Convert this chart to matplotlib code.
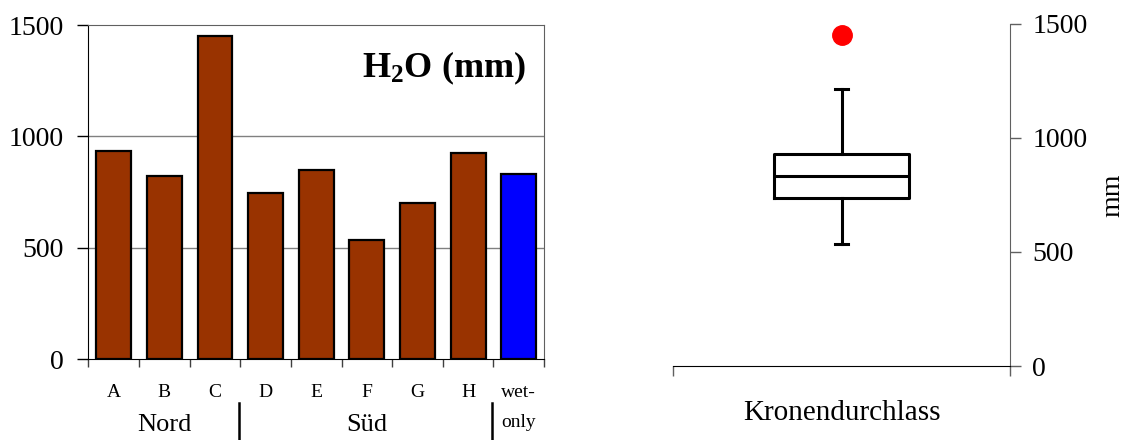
import numpy as np
import matplotlib
matplotlib.use("Agg")
import matplotlib.pyplot as plt
import matplotlib.transforms as mtransforms

plt.rcParams['font.family'] = ['Liberation Serif', 'DejaVu Serif']
plt.rcParams['mathtext.fontset'] = 'custom'
plt.rcParams['mathtext.rm'] = 'Liberation Serif'
plt.rcParams['mathtext.bf'] = 'Liberation Serif:bold'

# Throughfall per site (mm) and the wet-only reference collector
sites = ["A", "B", "C", "D", "E", "F", "G", "H"]
site_values = [934, 820, 1450, 748, 849, 534, 703, 925]
wet_only_value = 832
groups = ["Nord", "Süd"]
yticks = [0, 500, 1000, 1500]

BROWN = "#993300"
BLUE = "#0000FF"

fig = plt.figure(figsize=(11.33, 4.4), dpi=100)

# ---- bar chart ----
ax = fig.add_axes([0.0781, 0.184, 0.402, 0.759])
x = np.arange(len(sites) + 1)
values = site_values + [wet_only_value]
colors = [BROWN] * len(sites) + [BLUE]
ax.bar(x, values, width=0.69, color=colors, edgecolor="black", linewidth=1.6, zorder=3)
ax.set_xlim(-0.5, len(x) - 0.5)
ax.set_ylim(0, 1500)
ax.set_yticks(yticks)
ax.set_yticklabels([str(v) for v in yticks], fontsize=20)
ax.tick_params(axis="y", length=8, width=1, direction="out", pad=10)
for v in yticks[1:-1]:
    ax.axhline(v, color="#808080", linewidth=1, zorder=1)
ax.set_xticks(np.arange(-0.5, len(x), 1.0))
ax.set_xticklabels([])
ax.tick_params(axis="x", length=6, width=1, direction="out", color="#404040")
for side in ["top", "right"]:
    ax.spines[side].set_color("#606060")
for side in ["left", "bottom"]:
    ax.spines[side].set_color("black")

trans = mtransforms.blended_transform_factory(ax.transData, ax.transAxes)
for i, s in enumerate(sites):
    ax.text(i, -0.099, s, transform=trans, ha="center", va="center", fontsize=14)
ax.text(len(sites), -0.099, "wet-", transform=trans, ha="center", va="center", fontsize=14)
ax.text(len(sites), -0.19, "only", transform=trans, ha="center", va="center", fontsize=14)
ax.text(1, -0.197, groups[0], transform=trans, ha="center", va="center", fontsize=19)
ax.text(5, -0.197, groups[1], transform=trans, ha="center", va="center", fontsize=19)
for xb in [2.5, 7.5]:
    ax.plot([xb - 0.03, xb - 0.03], [-0.132, -0.245], transform=trans, color="black",
            linewidth=1.8, clip_on=False)

ax.text(0.96, 0.87, r"$\mathbf{H_2O}$ (mm)", transform=ax.transAxes,
        ha="right", va="center", fontsize=26, fontweight="bold")

# ---- box plot of the site values ----
bx = fig.add_axes([0.5943, 0.168, 0.2971, 0.778])
data = np.array(site_values, dtype=float)
q1, med, q3 = np.percentile(data, [25, 50, 75])
iqr = q3 - q1
fence_hi = q3 + 1.5 * iqr
fence_lo = q1 - 1.5 * iqr
outliers = data[(data > fence_hi) | (data < fence_lo)]
whishi = fence_hi if (data > fence_hi).any() else data.max()
whislo = fence_lo if (data < fence_lo).any() else data.min()
stats = [dict(med=med, q1=q1, q3=q3, whislo=whislo, whishi=whishi,
              fliers=outliers, label="")]
bx.bxp(stats, positions=[0.5], widths=0.4, capwidths=0.04, showfliers=True,
       boxprops=dict(color="black", linewidth=2.2),
       medianprops=dict(color="black", linewidth=2.2),
       whiskerprops=dict(color="black", linewidth=2.2),
       capprops=dict(color="black", linewidth=2.2),
       flierprops=dict(marker="o", markerfacecolor="red", markeredgecolor="red",
                       markersize=14))
bx.set_xlim(0, 1)
bx.set_ylim(0, 1500)
bx.yaxis.tick_right()
bx.yaxis.set_label_position("right")
bx.set_yticks(yticks)
bx.set_yticklabels([str(v) for v in yticks], fontsize=20)
bx.tick_params(axis="y", length=8, width=1, direction="out", pad=8, color="#606060")
bx.set_ylabel("mm", fontsize=20, labelpad=9)
bx.set_xticks([0, 1])
bx.set_xticklabels([])
bx.tick_params(axis="x", length=7, width=1, direction="out", color="#606060")
bx.set_xlabel("Kronendurchlass", fontsize=21, labelpad=14)
bx.spines["top"].set_visible(False)
bx.spines["left"].set_visible(False)
bx.spines["right"].set_color("#606060")
bx.spines["bottom"].set_color("black")

fig.savefig("out.png", dpi=100)
